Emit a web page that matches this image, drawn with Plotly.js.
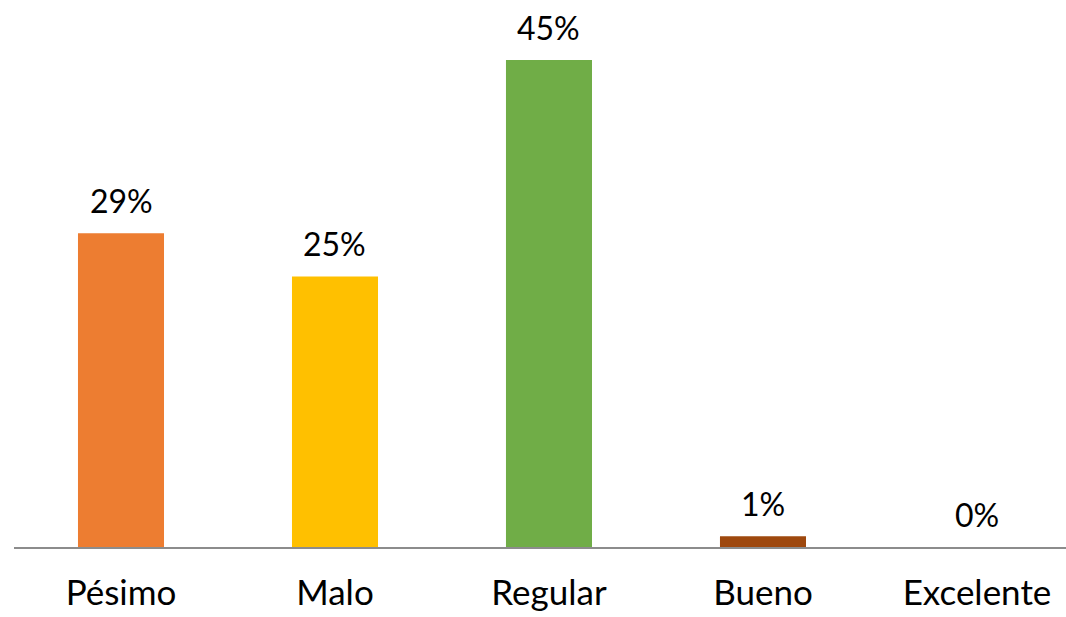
<!DOCTYPE html>
<html>
<head>
<meta charset="utf-8">
<script src="https://cdn.plot.ly/plotly-3.0.1.min.js"></script>
<style>html,body{margin:0;padding:0;background:#fff;}#chart{width:1066px;height:617px;}</style>
</head>
<body>
<div id="chart"></div>
<script>
const categories = ["Pésimo", "Malo", "Regular", "Bueno", "Excelente"];
const values = [29, 25, 45, 1, 0];
const valueLabels = ["29%", "25%", "45%", "1%", "0%"];
const colors = ["#ED7D31", "#FFC000", "#70AD47", "#9E480E", "#5B9BD5"];

const trace = {
  type: "bar",
  x: categories,
  y: values,
  marker: {color: colors},
  width: 0.402,
  hoverinfo: "none"
};

const annotations = categories.map((c, i) => ({
  x: c, y: values[i], xref: "x", yref: "y",
  text: valueLabels[i], showarrow: false,
  yanchor: "bottom", yshift: 11,
  font: {family: "Lato, 'Noto Sans', sans-serif", size: 32, color: "#000"}
}));

const layout = {
  width: 1066, height: 617,
  margin: {l: 14, r: 0, t: 0, b: 70},
  paper_bgcolor: "#fff", plot_bgcolor: "#fff",
  showlegend: false,
  xaxis: {
    type: "category",
    range: [-0.5, 4.416],
    showline: true, linecolor: "#8c8c8c", linewidth: 1.5,
    ticks: "", showgrid: false, zeroline: false,
    tickfont: {family: "Lato, 'Noto Sans', sans-serif", size: 35, color: "#000"},
    ticklabelstandoff: 14
  },
  yaxis: {
    range: [0, 50.55],
    visible: false, showgrid: false, zeroline: false
  },
  annotations: annotations
};

Plotly.newPlot("chart", [trace], layout, {displayModeBar: false, staticPlot: true});
</script>
</body>
</html>
